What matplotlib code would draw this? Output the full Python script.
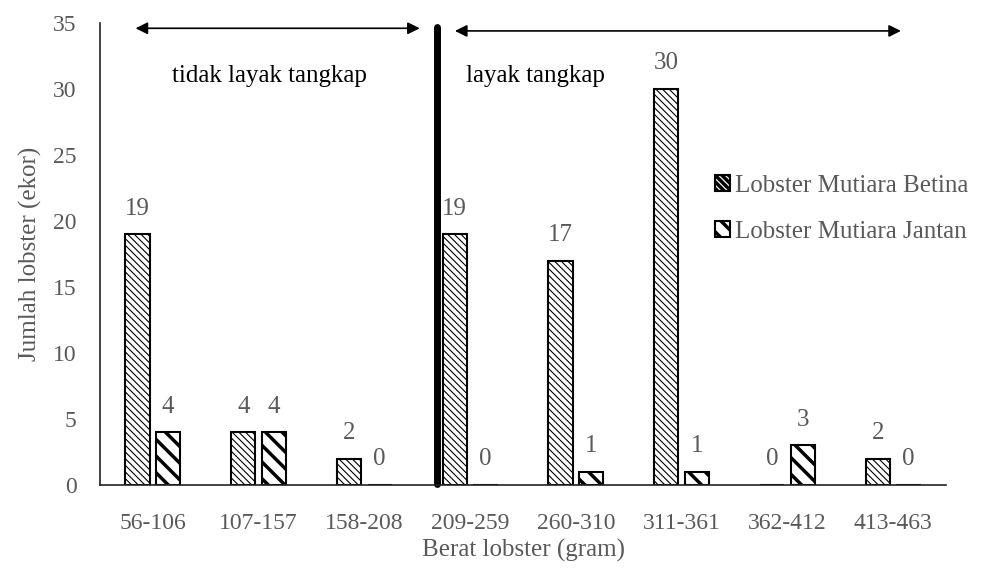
import matplotlib
matplotlib.use("Agg")
import matplotlib.pyplot as plt
import numpy as np

categories = ["56-106", "107-157", "158-208", "209-259", "260-310", "311-361", "362-412", "413-463"]
betina = [19, 4, 2, 19, 17, 30, 0, 2]
jantan = [4, 4, 0, 0, 1, 1, 3, 0]
label_betina = "Lobster Mutiara Betina"
label_jantan = "Lobster Mutiara Jantan"

GRAY = "#595959"
plt.rcParams["font.family"] = ["Liberation Serif", "DejaVu Serif"]

fig = plt.figure(figsize=(9.81, 5.71), dpi=100)
ax = fig.add_axes([100 / 981, 1 - 485 / 571, 846 / 981, (485 - 23) / 571])

x = np.arange(len(categories))
w = 0.23
off = 0.145

plt.rcParams["hatch.linewidth"] = 0.8
b1 = ax.bar(x - off, betina, w, color="white", edgecolor="black", linewidth=1.5,
            hatch="\\\\\\\\\\", label=label_betina)
plt.rcParams["hatch.linewidth"] = 2.5
b2 = ax.bar(x + off, jantan, w, color="white", edgecolor="black", linewidth=1.5,
            hatch="\\\\", label=label_jantan)

for xi, v in zip(x - off, betina):
    ax.text(xi, v + 1.1, str(v), ha="center", va="bottom", fontsize=18, color=GRAY)
for xi, v in zip(x + off, jantan):
    ax.text(xi, v + 1.1, str(v), ha="center", va="bottom", fontsize=18, color=GRAY)

ax.set_xlim(-0.5, len(categories) - 0.5)
ax.set_ylim(0, 35)
ax.set_yticks(range(0, 36, 5))
ax.set_xticks(x)
ax.set_xticklabels(categories)
ax.tick_params(axis="both", length=0, colors=GRAY, labelsize=17)
ax.tick_params(axis="y", pad=17)
ax.tick_params(axis="x", pad=20)
for s in ["top", "right"]:
    ax.spines[s].set_visible(False)
ax.spines["left"].set_color("#222222")
ax.spines["bottom"].set_color("#222222")
ax.spines["left"].set_linewidth(1.2)
ax.spines["bottom"].set_linewidth(1.2)

ax.set_xlabel("Berat lobster (gram)", fontsize=18, color=GRAY, labelpad=4)
ax.set_ylabel("Jumlah lobster (ekor)", fontsize=18, color=GRAY, labelpad=8)

# batas layak tangkap
ax.plot([2.69, 2.69], [0.1, 34.7], color="black", linewidth=5, solid_capstyle="round", clip_on=False)

ax.annotate("", xy=(-0.19, 34.6), xytext=(2.55, 34.6),
            arrowprops=dict(arrowstyle="<|-|>", color="black", lw=1.2, mutation_scale=18), annotation_clip=False)
ax.annotate("", xy=(2.83, 34.4), xytext=(7.1, 34.4),
            arrowprops=dict(arrowstyle="<|-|>", color="black", lw=1.2, mutation_scale=18), annotation_clip=False)
ax.text(1.1, 31.0, "tidak layak tangkap", ha="center", va="center", fontsize=18, color="black")
ax.text(2.96, 31.0, "layak tangkap", ha="left", va="center", fontsize=18, color="black")

ax.legend(loc="upper left", bbox_to_anchor=(0.70, 0.72), frameon=False, fontsize=18,
          handlelength=0.6, handleheight=0.6, handletextpad=0.2, labelspacing=0.95, labelcolor=GRAY)

fig.savefig("out.png", dpi=100)
